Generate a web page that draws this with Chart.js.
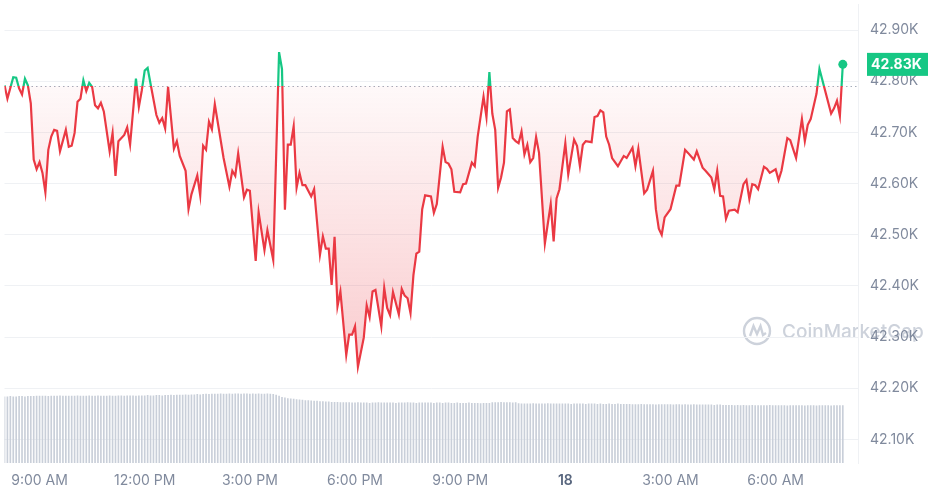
<!DOCTYPE html>
<html>
<head>
<meta charset="utf-8">
<script src="https://cdn.jsdelivr.net/npm/chart.js@4.4.1/dist/chart.umd.min.js"></script>
<style>
  html, body { margin: 0; padding: 0; background: #fff; }
  canvas { display: block; }
</style>
</head>
<body>
<canvas id="price-chart" width="928" height="495"></canvas>
<script>
/* price samples: minutes after 8:00 AM, and price in USD */
let minutes = [
  0, 5, 15, 20, 25, 30, 35, 40, 45, 50, 55, 60, 65, 70, 75, 80, 85, 90, 95, 105,
  110, 115, 120, 125, 130, 135, 140, 145, 150, 155, 160, 165, 170, 180, 185, 190, 195, 205, 210, 215,
  225, 230, 235, 240, 245, 250, 260, 265, 270, 275, 280, 290, 295, 300, 310, 315, 320, 330, 335, 340,
  345, 350, 355, 360, 375, 385, 390, 395, 400, 410, 415, 420, 430, 435, 445, 450, 460, 470, 475, 480,
  485, 490, 495, 500, 505, 510, 515, 525, 530, 540, 545, 550, 555, 560, 565, 570, 575, 585, 590, 595,
  600, 605, 615, 620, 625, 630, 635, 645, 650, 655, 660, 665, 675, 680, 685, 690, 695, 700, 705, 710,
  715, 720, 730, 735, 740, 750, 755, 760, 765, 770, 780, 785, 790, 800, 805, 810, 820, 825, 830, 835,
  840, 845, 850, 855, 860, 865, 870, 875, 880, 885, 890, 895, 900, 905, 910, 915, 925, 935, 940, 945,
  950, 960, 965, 975, 980, 985, 990, 995, 1005, 1010, 1015, 1020, 1025, 1030, 1035, 1040, 1050, 1060, 1065, 1075,
  1080, 1085, 1095, 1100, 1110, 1115, 1120, 1125, 1130, 1140, 1150, 1155, 1165, 1170, 1180, 1185, 1195, 1200, 1210, 1215,
  1220, 1225, 1230, 1235, 1240, 1250, 1255, 1265, 1270, 1275, 1280, 1285, 1290, 1300, 1305, 1310, 1320, 1325, 1330, 1340,
  1345, 1355, 1365, 1370, 1375, 1380, 1390, 1395, 1415, 1420, 1425, 1430, 1435
]
let prices = [
  42792, 42766, 42808, 42807, 42786, 42774, 42805, 42792, 42757, 42647, 42628, 42642, 42621, 42583, 42666, 42692, 42705, 42703, 42663, 42705,
  42672, 42674, 42699, 42760, 42766, 42802, 42781, 42797, 42789, 42753, 42747, 42758, 42741, 42663, 42699, 42615, 42683, 42695, 42710, 42676,
  42805, 42750, 42782, 42821, 42826, 42795, 42734, 42719, 42728, 42708, 42789, 42668, 42683, 42654, 42625, 42550, 42579, 42616, 42577, 42674,
  42666, 42721, 42706, 42755, 42650, 42594, 42625, 42615, 42659, 42573, 42588, 42586, 42449, 42544, 42470, 42509, 42451, 42857, 42824, 42549,
  42676, 42676, 42712, 42592, 42621, 42597, 42597, 42575, 42589, 42461, 42497, 42473, 42473, 42402, 42496, 42360, 42389, 42265, 42305, 42305,
  42321, 42242, 42299, 42362, 42339, 42389, 42392, 42321, 42396, 42357, 42343, 42388, 42344, 42394, 42381, 42376, 42347, 42421, 42463, 42467,
  42550, 42577, 42575, 42543, 42560, 42672, 42642, 42639, 42628, 42584, 42583, 42599, 42600, 42641, 42634, 42692, 42770, 42730, 42818, 42737,
  42705, 42592, 42612, 42641, 42741, 42745, 42689, 42683, 42679, 42702, 42657, 42676, 42642, 42650, 42691, 42660, 42483, 42560, 42487, 42571,
  42589, 42679, 42618, 42686, 42674, 42634, 42676, 42683, 42681, 42730, 42732, 42743, 42739, 42692, 42676, 42650, 42634, 42654, 42650, 42670,
  42634, 42668, 42581, 42588, 42625, 42550, 42512, 42500, 42534, 42550, 42596, 42596, 42666, 42660, 42647, 42663, 42631, 42625, 42612, 42589,
  42625, 42576, 42575, 42531, 42547, 42549, 42544, 42599, 42607, 42570, 42599, 42597, 42589, 42633, 42629, 42621, 42628, 42607, 42625, 42689,
  42685, 42650, 42726, 42683, 42715, 42726, 42776, 42824, 42737, 42747, 42762, 42732, 42833
]
let openPrice = 42791

/* volume bars, one every 5 minutes (one row = one hour), in billions */
let volumes = [
  19.5, 19.5, 19.6, 19.5, 19.5, 19.6, 19.6, 19.5, 19.6, 19.6, 19.6, 19.7,
  19.7, 19.7, 19.7, 19.6, 19.7, 19.7, 19.7, 19.8, 19.7, 19.7, 19.7, 19.7,
  19.7, 19.8, 19.7, 19.7, 19.7, 19.8, 19.7, 19.7, 19.8, 19.7, 19.7, 19.7,
  19.8, 19.7, 19.7, 19.8, 19.8, 19.7, 19.8, 19.8, 19.8, 19.7, 19.8, 19.8,
  19.8, 19.9, 19.8, 19.8, 19.9, 19.9, 19.8, 19.9, 19.9, 20.0, 19.9, 20.0,
  20.0, 20.0, 20.1, 20.0, 20.1, 20.1, 20.2, 20.1, 20.2, 20.3, 20.2, 20.3,
  20.3, 20.3, 20.4, 20.3, 20.3, 20.4, 20.3, 20.4, 20.4, 20.3, 20.4, 20.4,
  20.3, 20.4, 20.3, 20.4, 20.3, 20.3, 20.4, 20.3, 20.2, 20.0, 19.7, 19.3,
  19.2, 19.0, 18.9, 18.8, 18.7, 18.6, 18.5, 18.4, 18.4, 18.3, 18.2, 18.2,
  18.1, 18.1, 18.0, 18.0, 17.9, 17.9, 17.9, 17.8, 17.8, 17.8, 17.8, 17.7,
  17.7, 17.8, 17.7, 17.7, 17.7, 17.6, 17.7, 17.7, 17.8, 17.7, 17.7, 17.7,
  17.7, 17.7, 17.6, 17.7, 17.7, 17.7, 17.8, 17.7, 17.7, 17.6, 17.7, 17.7,
  17.7, 17.7, 17.7, 17.6, 17.7, 17.7, 17.6, 17.7, 17.7, 17.6, 17.6, 17.7,
  17.6, 17.6, 17.6, 17.7, 17.6, 17.6, 17.6, 17.5, 17.6, 17.6, 17.6, 17.8,
  17.8, 17.8, 17.9, 17.8, 17.8, 17.8, 17.7, 17.8, 17.5, 17.4, 17.4, 17.4,
  17.4, 17.5, 17.4, 17.4, 17.4, 17.4, 17.5, 17.4, 17.4, 17.4, 17.4, 17.4,
  17.4, 17.4, 17.3, 17.4, 17.4, 17.4, 17.4, 17.3, 17.4, 17.4, 17.4, 17.3,
  17.4, 17.3, 17.3, 17.4, 17.3, 17.3, 17.4, 17.3, 17.3, 17.3, 17.3, 17.2,
  17.2, 17.2, 17.3, 17.2, 17.2, 17.2, 17.2, 17.1, 17.2, 17.2, 17.2, 17.2,
  17.2, 17.1, 17.2, 17.2, 17.1, 17.2, 17.1, 17.1, 17.2, 17.1, 17.1, 17.1,
  17.1, 17.1, 17.1, 17.0, 17.1, 17.1, 17.0, 17.0, 17.0, 17.0, 16.9, 17.0,
  16.9, 17.0, 16.9, 16.9, 17.0, 16.9, 16.9, 16.9, 16.9, 16.9, 17.0, 16.9,
  16.9, 16.9, 16.9, 16.9, 16.8, 16.9, 16.9, 16.9, 16.9, 16.9, 16.8, 16.9,
  16.9, 16.9, 16.8, 16.9, 16.9, 16.9, 16.9, 16.8, 16.9, 16.9, 16.9, 16.9
]

/* axis ticks (x in hours after 8:00 AM) */
let xTickHours = [1, 4, 7, 10, 13, 16, 19, 22]
let xTickLabels = ['9:00 AM', '12:00 PM', '3:00 PM', '6:00 PM', '9:00 PM', '18', '3:00 AM', '6:00 AM']
let yTickValues = [42100, 42200, 42300, 42400, 42500, 42600, 42700, 42800, 42900]

let red = '#ea3943'
let green = '#16c784'
let labelGray = '#808a9d'
let fontFamily = 'Inter, "Noto Sans", sans-serif'

let priceData = minutes.map((m, i) => ({ x: m / 60, y: prices[i] }))
let volumeData = volumes.map((v, i) => ({ x: i * 5 / 60, y: v }))

// green above the opening price, red below, hard switch at the baseline
function lineGradient(chart) {
    let { ctx, chartArea, scales } = chart
    if (!chartArea) return red
    let yBase = scales.y.getPixelForValue(openPrice)
    let stop = (yBase - chartArea.top) / (chartArea.bottom - chartArea.top)
    let g = ctx.createLinearGradient(0, chartArea.top, 0, chartArea.bottom)
    g.addColorStop(0, green)
    g.addColorStop(stop, green)
    g.addColorStop(stop, red)
    g.addColorStop(1, red)
    return g
}

function fillGradient(chart) {
    let { ctx, chartArea, scales } = chart
    if (!chartArea) return 'rgba(234,57,67,0.1)'
    let h = chartArea.bottom - chartArea.top
    let stop = (scales.y.getPixelForValue(openPrice) - chartArea.top) / h
    let low = (scales.y.getPixelForValue(Math.min(...prices)) - chartArea.top) / h
    let g = ctx.createLinearGradient(0, chartArea.top, 0, chartArea.bottom)
    g.addColorStop(0, 'rgba(22,199,132,0.12)')
    g.addColorStop(stop, 'rgba(22,199,132,0.02)')
    g.addColorStop(stop, 'rgba(234,57,67,0.03)')
    g.addColorStop(low, 'rgba(234,57,67,0.26)')
    g.addColorStop(1, 'rgba(234,57,67,0.28)')
    return g
}

// dotted opening-price line, watermark and the current price tag
let overlayPlugin = {
    id: 'overlay',
    beforeDraw(chart) {
        let ctx = chart.ctx
        ctx.save()
        ctx.strokeStyle = '#cdd2db'
        ctx.lineWidth = 2.4
        let cx = 757, cy = 331
        ctx.beginPath()
        ctx.arc(cx, cy, 13, 0, Math.PI * 2)
        ctx.stroke()
        ctx.beginPath()
        ctx.moveTo(cx - 7, cy + 5)
        ctx.lineTo(cx - 3.5, cy - 5)
        ctx.lineTo(cx, cy + 3)
        ctx.lineTo(cx + 3.5, cy - 5)
        ctx.lineTo(cx + 6, cy + 4)
        ctx.lineTo(cx + 9, cy + 2)
        ctx.stroke()
        ctx.fillStyle = '#cdd2db'
        ctx.font = '500 19px ' + fontFamily
        ctx.textBaseline = 'alphabetic'
        ctx.fillText('CoinMarketCap', 782, 338)
        ctx.restore()
    },
    beforeDatasetsDraw(chart) {
        let { ctx, chartArea, scales } = chart
        let y = Math.round(scales.y.getPixelForValue(openPrice)) + 0.5
        ctx.save()
        ctx.strokeStyle = '#a6adba'
        ctx.lineWidth = 1
        ctx.setLineDash([1.5, 3])
        ctx.beginPath()
        ctx.moveTo(chartArea.left, y)
        ctx.lineTo(chartArea.right, y)
        ctx.stroke()
        ctx.restore()
    },
    afterDraw(chart) {
        let { ctx, chartArea, scales } = chart
        let last = prices[prices.length - 1]
        let y = scales.y.getPixelForValue(last)
        ctx.save()
        ctx.fillStyle = green
        ctx.fillRect(chartArea.right + 9, y - 11.5, 61, 23)
        ctx.fillStyle = '#fff'
        ctx.font = '700 14px ' + fontFamily
        ctx.textBaseline = 'middle'
        ctx.fillText((last / 1000).toFixed(2) + 'K', chartArea.right + 13, y + 0.5)
        ctx.restore()
    }
}

let chartCanvas = document.querySelector('#price-chart')
let ctx = chartCanvas.getContext('2d')

let priceChart = new Chart(ctx, {
    type: 'line',
    data: {
        datasets: [{
            label: 'Price',
            data: priceData,
            borderColor: c => lineGradient(c.chart),
            backgroundColor: c => fillGradient(c.chart),
            borderWidth: 2.2,
            tension: 0,
            fill: { target: { value: openPrice } },
            pointRadius: c => c.dataIndex === prices.length - 1 ? 4.5 : 0,
            pointBackgroundColor: green,
            pointBorderWidth: 0,
            order: 1
        }, {
            type: 'bar',
            label: 'Volume',
            data: volumeData,
            yAxisID: 'vol',
            backgroundColor: '#c9cfd9',
            barThickness: 1,
            order: 2
        }]
    },
    options: {
        responsive: false,
        animation: false,
        layout: { padding: 0 },
        plugins: { legend: { display: false }, tooltip: { enabled: false } },
        scales: {
            x: {
                type: 'linear',
                min: 0,
                max: 24.35,
                offset: false,
                grid: { display: false, offset: false },
                border: { display: false },
                afterBuildTicks: axis => { axis.ticks = xTickHours.map(v => ({ value: v })) },
                afterFit: axis => { axis.height = 32; axis.paddingLeft = 0; axis.paddingRight = 0 },
                ticks: {
                    autoSkip: false,
                    maxRotation: 0,
                    padding: 1,
                    color: c => c.tick && c.tick.value === 16 ? '#58667e' : labelGray,
                    font: c => ({ family: fontFamily, size: 14, weight: c.tick && c.tick.value === 16 ? '600' : '400' }),
                    callback: (v, i) => xTickLabels[i]
                }
            },
            y: {
                position: 'right',
                min: 42054,
                max: 42950,
                afterBuildTicks: axis => { axis.ticks = yTickValues.map(v => ({ value: v })) },
                afterFit: axis => { axis.width = 70; axis.paddingTop = 0; axis.paddingBottom = 0 },
                grid: { color: '#eff1f4', drawTicks: false },
                border: { display: true, color: '#eff1f4' },
                ticks: {
                    padding: 12,
                    color: labelGray,
                    font: { family: fontFamily, size: 14 },
                    callback: v => (v / 1000).toFixed(2) + 'K'
                }
            },
            vol: {
                display: false,
                min: 0,
                max: 135
            }
        }
    },
    plugins: [overlayPlugin]
})
</script>
</body>
</html>
